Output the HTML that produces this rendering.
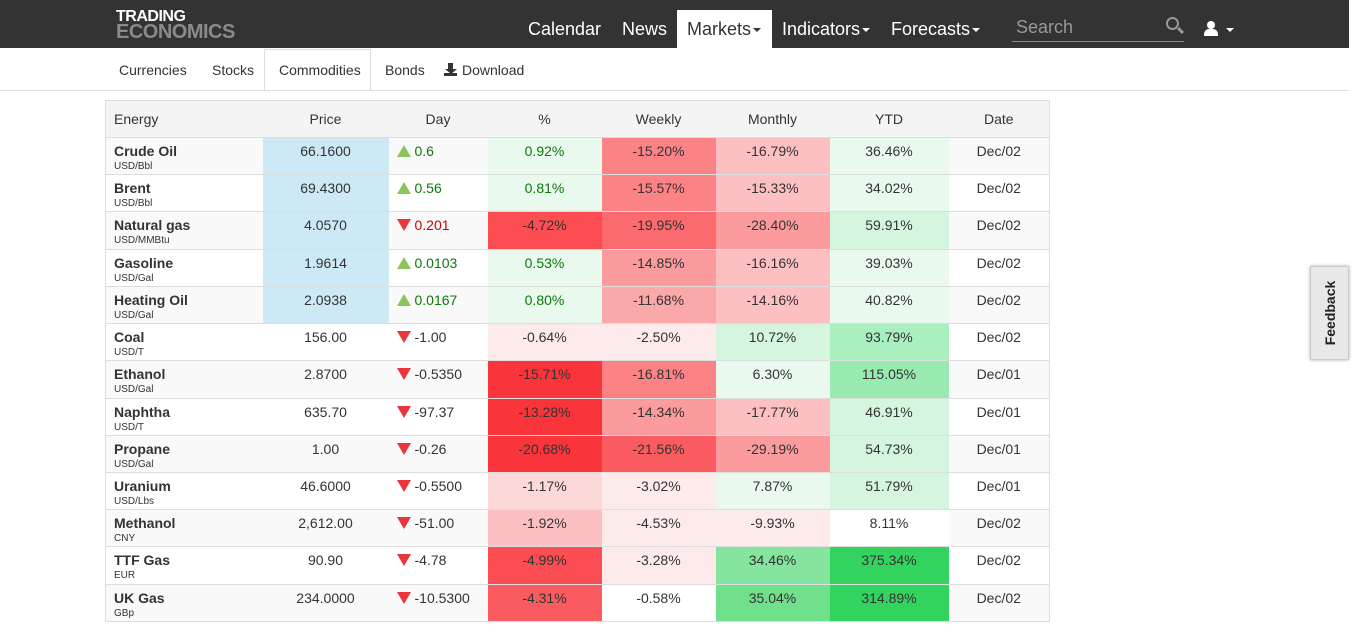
<!DOCTYPE html>
<html><head><meta charset="utf-8"><style>
*{margin:0;padding:0;box-sizing:border-box}
body{width:1366px;height:643px;overflow:hidden;background:#fff;font-family:"Liberation Sans",Arial,sans-serif;color:#333;position:relative}
.top{position:absolute;left:0;top:0;width:1349px;height:48px;background:#333}
.logo{position:absolute;left:116px;top:10px;font-weight:bold;line-height:14px;letter-spacing:-0.5px}
.logo .a{color:#fff;font-size:16px}.logo .b{color:#8a8a8a;font-size:20px;line-height:16px}
.nav{position:absolute;top:19px;font-size:18px;color:#fff}
.mk{position:absolute;left:677px;top:10px;width:95px;height:38px;background:#fff}
.caret{display:inline-block;border-left:4px solid transparent;border-right:4px solid transparent;border-top:4px solid currentColor;vertical-align:middle;margin-left:2px}
.search{position:absolute;left:1012px;top:14px;width:172px;height:28px;border-bottom:1px solid #888;color:#999;font-size:18px;padding:3px 0 0 4px}
.sub{position:absolute;top:62px;font-size:14px;color:#333}
.line{position:absolute;left:0;top:90px;width:1349px;height:1px;background:#ddd}
.tab{position:absolute;left:264px;top:49px;width:107px;height:42px;border:1px solid #ddd;border-bottom:1px solid #fff;background:#fff}
table{position:absolute;left:105px;top:100px;border-collapse:collapse;table-layout:fixed;width:944px;border:1px solid #ddd;font-size:14px}
th{height:37px;background:#f4f4f4;font-weight:normal;border-bottom:1px solid #ddd;color:#333}
td{height:37.23px;border-top:1px solid #ddd;text-align:center;vertical-align:top;padding-top:5px;line-height:16px}
tr:nth-child(even) td{background:#f9f9f9}
td.n{text-align:left;padding-left:8px}
td.n b{font-size:14px;display:block}
td.n small{font-size:10px;display:block;line-height:12px;margin-top:2px}
td.p{background:#cde9f6!important}
td.d{text-align:left;padding-left:8px}
.up{display:inline-block;border-left:7px solid transparent;border-right:7px solid transparent;border-bottom:12px solid #8cc65a;margin-right:4px;vertical-align:-1px}
.dn{display:inline-block;border-left:7px solid transparent;border-right:7px solid transparent;border-top:12px solid #e8363c;margin-right:4px;vertical-align:-1px}
.g{color:#0a7a0a}.r{color:#c00}
.fb{position:absolute;left:1310px;top:266px;width:39px;height:94px;background:#e8e8e8;border:1px solid #ccc;box-shadow:0 0 3px #aaa}
.fb span{position:absolute;left:-24px;top:38px;transform:rotate(-90deg);font-size:14px;font-weight:bold;color:#222;width:86px;text-align:center}
.dl{display:inline-block;position:relative;width:13px;height:13px;vertical-align:-1px;margin-right:5px}
.dl:before{content:"";position:absolute;left:4px;top:0;width:5px;height:6px;background:#333}
.dl:after{content:"";position:absolute;left:1px;top:6px;border-left:6px solid transparent;border-right:6px solid transparent;border-top:5px solid #333}
.dl i{position:absolute;left:0;bottom:0;width:13px;height:3px;background:#333}
</style></head><body>
<div class="top"></div>
<div class="logo"><div class="a">TRADING</div><div class="b">ECONOMICS</div></div>
<div class="mk"></div>
<div class="nav" style="left:528px">Calendar</div>
<div class="nav" style="left:622px">News</div>
<div class="nav" style="left:687px;color:#333">Markets<span class="caret"></span></div>
<div class="nav" style="left:782px">Indicators<span class="caret"></span></div>
<div class="nav" style="left:891px">Forecasts<span class="caret"></span></div>
<div class="search">Search</div>
<div style="position:absolute;left:1166px;top:17px;width:13px;height:13px;border:2px solid #999;border-radius:50%"></div>
<div style="position:absolute;left:1177px;top:29px;width:7px;height:3px;background:#999;transform:rotate(45deg)"></div>
<div style="position:absolute;left:1207px;top:21px;width:8px;height:8px;background:#fff;border-radius:50%"></div>
<div style="position:absolute;left:1204px;top:29px;width:14px;height:7px;background:#fff;border-radius:5px 5px 0 0"></div>
<div class="nav" style="left:1224px;top:19px"><span class="caret"></span></div>
<div class="tab"></div>
<div class="line"></div>
<div class="sub" style="left:119px">Currencies</div>
<div class="sub" style="left:212px">Stocks</div>
<div class="sub" style="left:279px">Commodities</div>
<div class="sub" style="left:385px">Bonds</div>
<div class="sub" style="left:444px"><span class="dl"><i></i></span>Download</div>
<table>
<colgroup><col style="width:157px"><col style="width:126px"><col style="width:99px"><col style="width:114px"><col style="width:114px"><col style="width:114px"><col style="width:119px"><col style="width:101px"></colgroup>
<tr><th style="text-align:left;padding-left:8px">Energy</th><th>Price</th><th>Day</th><th>%</th><th>Weekly</th><th>Monthly</th><th>YTD</th><th>Date</th></tr>
<tr><td class="n"><b>Crude Oil</b><small>USD/Bbl</small></td><td class="p">66.1600</td><td class="d g"><span class="up"></span>0.6</td><td class="g" style="background:#eaf9ee">0.92%</td><td style="background:#fc8385">-15.20%</td><td style="background:#fcc0c2">-16.79%</td><td style="background:#eaf9ee">36.46%</td><td>Dec/02</td></tr>
<tr><td class="n"><b>Brent</b><small>USD/Bbl</small></td><td class="p">69.4300</td><td class="d g"><span class="up"></span>0.56</td><td class="g" style="background:#eaf9ee">0.81%</td><td style="background:#fc8385">-15.57%</td><td style="background:#fcc0c2">-15.33%</td><td style="background:#eaf9ee">34.02%</td><td>Dec/02</td></tr>
<tr><td class="n"><b>Natural gas</b><small>USD/MMBtu</small></td><td class="p">4.0570</td><td class="d r"><span class="dn"></span>0.201</td><td style="background:#fb4d52">-4.72%</td><td style="background:#fb6a6e">-19.95%</td><td style="background:#fb9b9d">-28.40%</td><td style="background:#d5f5df">59.91%</td><td>Dec/02</td></tr>
<tr><td class="n"><b>Gasoline</b><small>USD/Gal</small></td><td class="p">1.9614</td><td class="d g"><span class="up"></span>0.0103</td><td class="g" style="background:#eaf9ee">0.53%</td><td style="background:#fb9b9d">-14.85%</td><td style="background:#fcc0c2">-16.16%</td><td style="background:#eaf9ee">39.03%</td><td>Dec/02</td></tr>
<tr><td class="n"><b>Heating Oil</b><small>USD/Gal</small></td><td class="p">2.0938</td><td class="d g"><span class="up"></span>0.0167</td><td class="g" style="background:#eaf9ee">0.80%</td><td style="background:#fba8aa">-11.68%</td><td style="background:#fcc0c2">-14.16%</td><td style="background:#eaf9ee">40.82%</td><td>Dec/02</td></tr>
<tr><td class="n"><b>Coal</b><small>USD/T</small></td><td>156.00</td><td class="d"><span class="dn"></span>-1.00</td><td style="background:#fdeaea">-0.64%</td><td style="background:#fdeaea">-2.50%</td><td style="background:#d5f5df">10.72%</td><td style="background:#aaefc0">93.79%</td><td>Dec/02</td></tr>
<tr><td class="n"><b>Ethanol</b><small>USD/Gal</small></td><td>2.8700</td><td class="d"><span class="dn"></span>-0.5350</td><td style="background:#f9353b">-15.71%</td><td style="background:#fc8385">-16.81%</td><td style="background:#eaf9ee">6.30%</td><td style="background:#98eab0">115.05%</td><td>Dec/01</td></tr>
<tr><td class="n"><b>Naphtha</b><small>USD/T</small></td><td>635.70</td><td class="d"><span class="dn"></span>-97.37</td><td style="background:#f9353b">-13.28%</td><td style="background:#fb9b9d">-14.34%</td><td style="background:#fcc0c2">-17.77%</td><td style="background:#d5f5df">46.91%</td><td>Dec/01</td></tr>
<tr><td class="n"><b>Propane</b><small>USD/Gal</small></td><td>1.00</td><td class="d"><span class="dn"></span>-0.26</td><td style="background:#f9353b">-20.68%</td><td style="background:#fa5b60">-21.56%</td><td style="background:#fb9b9d">-29.19%</td><td style="background:#d5f5df">54.73%</td><td>Dec/01</td></tr>
<tr><td class="n"><b>Uranium</b><small>USD/Lbs</small></td><td>46.6000</td><td class="d"><span class="dn"></span>-0.5500</td><td style="background:#fdd8d9">-1.17%</td><td style="background:#fdeaea">-3.02%</td><td style="background:#eaf9ee">7.87%</td><td style="background:#d5f5df">51.79%</td><td>Dec/01</td></tr>
<tr><td class="n"><b>Methanol</b><small>CNY</small></td><td>2,612.00</td><td class="d"><span class="dn"></span>-51.00</td><td style="background:#fcc0c2">-1.92%</td><td style="background:#fdeaea">-4.53%</td><td style="background:#fdeaea">-9.93%</td><td style="background:#fff">8.11%</td><td>Dec/02</td></tr>
<tr><td class="n"><b>TTF Gas</b><small>EUR</small></td><td>90.90</td><td class="d"><span class="dn"></span>-4.78</td><td style="background:#fb4d52">-4.99%</td><td style="background:#fdeaea">-3.28%</td><td style="background:#85e59e">34.46%</td><td style="background:#33d35f">375.34%</td><td>Dec/02</td></tr>
<tr><td class="n"><b>UK Gas</b><small>GBp</small></td><td>234.0000</td><td class="d"><span class="dn"></span>-10.5300</td><td style="background:#fa5b60">-4.31%</td><td style="background:#fff">-0.58%</td><td style="background:#70e08c">35.04%</td><td style="background:#33d35f">314.89%</td><td>Dec/02</td></tr>
</table>
<div class="fb"><span>Feedback</span></div>
</body></html>
